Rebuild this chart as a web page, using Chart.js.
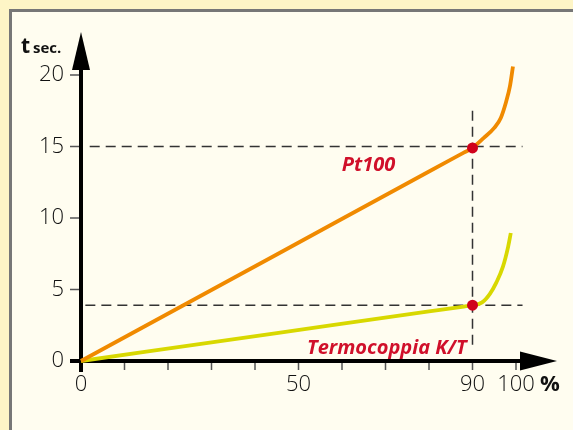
<!DOCTYPE html>
<html><head><meta charset="utf-8">
<script src="https://cdn.jsdelivr.net/npm/chart.js@4"></script>
<style>html,body{margin:0;padding:0;background:#fef5c6}canvas{display:block}</style>
</head><body>
<canvas id="c" width="573" height="430"></canvas>
<script>
const xTicks = [0, 50, 90, 100];
const xMinor = [0,10,20,30,40,50,60,70,80,90,100];
const yTicks = [0, 5, 10, 15, 20];
const pt100X = [0, 45, 80, 88, 90, 92.6, 95, 96.5, 97.7, 98.6, 99.3];
const pt100Y = [0, 7.45, 13.25, 14.57, 14.9, 15.6, 16.3, 17.0, 18.1, 19.2, 20.6];
const tcX = [0, 45, 80, 88, 90, 92.2, 94, 95.5, 97, 98.2, 98.8];
const tcY = [0, 1.95, 3.47, 3.81, 3.9, 4.1, 4.7, 5.5, 6.6, 8.0, 8.95];
const markX = [90, 90];
const markY = [14.9, 3.9];
const labels = {pt100: 'Pt100', tc: 'Termocoppia K/T', yTitle: ['t', 'sec.'], xUnit: '%'};

const toPts = (xs, ys) => xs.map((x, i) => ({x, y: ys[i]}));

const FONT = '"Open Sans", "DejaVu Sans", sans-serif';

const deco = {
  id: 'deco',
  beforeDraw(chart) {
    const ctx = chart.ctx;
    ctx.save();
    ctx.fillStyle = '#fef5c6';
    ctx.fillRect(0, 0, 573, 430);
    ctx.fillStyle = '#fffdf0';
    ctx.fillRect(10, 9, 563, 421);
    ctx.fillStyle = '#777';
    ctx.fillRect(9, 9, 564, 3);
    ctx.fillRect(9, 9, 3, 421);
    ctx.restore();
  },
  beforeDatasetsDraw(chart) {
    const ctx = chart.ctx, xs = chart.scales.x, ys = chart.scales.y;
    const X = v => xs.getPixelForValue(v), Y = v => ys.getPixelForValue(v);
    ctx.save();
    // dashed guide lines
    ctx.strokeStyle = '#333';
    ctx.lineWidth = 1.5;
    ctx.setLineDash([10, 6]);
    ctx.beginPath();
    ctx.moveTo(X(2), Y(15)); ctx.lineTo(X(101.5), Y(15));
    ctx.moveTo(X(1), Y(3.9)); ctx.lineTo(X(101.5), Y(3.9));
    ctx.moveTo(X(90), Y(17.5)); ctx.lineTo(X(90), Y(1.1));
    ctx.stroke();
    ctx.setLineDash([]);
    // minor ticks
    ctx.strokeStyle = '#555';
    ctx.lineWidth = 1.5;
    ctx.beginPath();
    xMinor.slice(1).forEach(v => { ctx.moveTo(X(v), Y(0)); ctx.lineTo(X(v), Y(0) + 9); });
    yTicks.slice(1).forEach(v => { ctx.moveTo(X(0) - 11, Y(v)); ctx.lineTo(X(0), Y(v)); });
    ctx.stroke();
    // axes
    ctx.strokeStyle = '#000';
    ctx.lineWidth = 4;
    ctx.beginPath();
    ctx.moveTo(X(0), Y(0) + 11); ctx.lineTo(X(0), 68);
    ctx.moveTo(X(0) - 11, Y(0)); ctx.lineTo(522, Y(0));
    ctx.stroke();
    ctx.fillStyle = '#000';
    ctx.beginPath();
    ctx.moveTo(X(0), 32); ctx.lineTo(X(0) + 9, 70); ctx.lineTo(X(0) - 9, 70); ctx.closePath();
    ctx.fill();
    ctx.beginPath();
    ctx.moveTo(557, Y(0)); ctx.lineTo(520, Y(0) - 9.5); ctx.lineTo(520, Y(0) + 9.5); ctx.closePath();
    ctx.fill();
    // tick labels
    ctx.fillStyle = '#111';
    ctx.font = '300 22px ' + FONT;
    ctx.textBaseline = 'middle';
    ctx.textAlign = 'right';
    yTicks.forEach(v => ctx.fillText(String(v), X(0) - 17, Y(v)));
    ctx.textAlign = 'center';
    xTicks.forEach(v => ctx.fillText(String(v), X(v), Y(0) + 24));
    ctx.font = 'bold 22px ' + FONT;
    ctx.textAlign = 'left';
    ctx.fillText(labels.xUnit, 540, Y(0) + 24);
    // y title
    ctx.textBaseline = 'alphabetic';
    ctx.font = 'bold 21px ' + FONT;
    ctx.fillText(labels.yTitle[0], 21, 53);
    ctx.font = 'bold 15px ' + FONT;
    ctx.fillText(labels.yTitle[1], 33, 53);
    // series labels
    ctx.fillStyle = '#d0102a';
    ctx.font = 'italic bold 20px ' + FONT;
    ctx.textAlign = 'center';
    ctx.textBaseline = 'middle';
    ctx.fillText(labels.pt100, X(66.1), Y(13.7));
    ctx.fillText(labels.tc, X(70.3), Y(0.9));
    ctx.restore();
  }
};

new Chart(document.getElementById('c'), {
  type: 'scatter',
  data: {
    datasets: [
      {data: toPts(markX, markY), pointRadius: 5.5, pointBackgroundColor: '#d0021b', pointBorderWidth: 0, showLine: false, order: 0},
      {data: toPts(pt100X, pt100Y), showLine: true, borderColor: '#f08a00', borderWidth: 3.8, pointRadius: 0, cubicInterpolationMode: 'monotone', clip: false, order: 1},
      {data: toPts(tcX, tcY), showLine: true, borderColor: '#d8d800', borderWidth: 3.8, pointRadius: 0, cubicInterpolationMode: 'monotone', clip: false, order: 2}
    ]
  },
  options: {
    responsive: false,
    animation: false,
    devicePixelRatio: 1,
    layout: {padding: {left: 81, right: 57, top: 75, bottom: 69}},
    scales: {
      x: {type: 'linear', min: 0, max: 100, display: false},
      y: {type: 'linear', min: 0, max: 20, display: false}
    },
    plugins: {legend: {display: false}, tooltip: {enabled: false}}
  },
  plugins: [deco]
});
</script>
</body></html>
